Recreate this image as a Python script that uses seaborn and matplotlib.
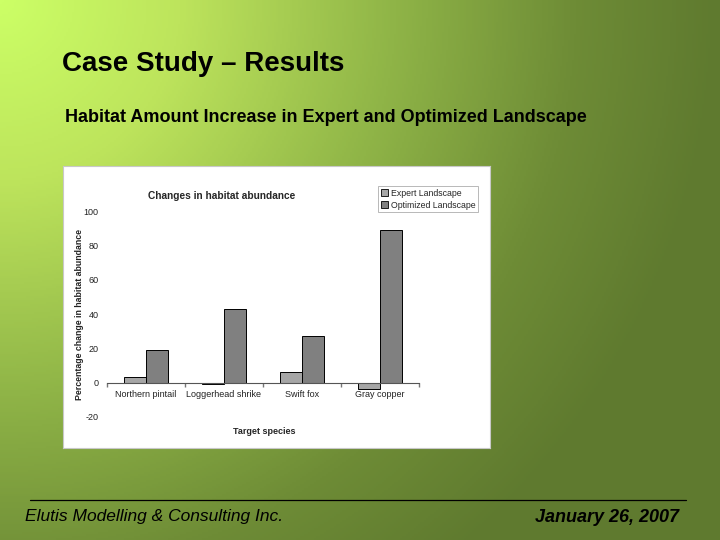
import matplotlib.pyplot as plt
import matplotlib.colors as mcolors
import numpy as np
import pandas as pd
import seaborn as sns

# Data
species = ['Northern pintail', 'Loggerhead shrike', 'Swift fox', 'Gray copper']
expert = [3.5, -1.0, 6.0, -3.5]
optimized = [19.0, 43.0, 27.0, 89.0]
series_names = ['Expert Landscape', 'Optimized Landscape']
y_ticks = [-20, 0, 20, 40, 60, 80, 100]

df = pd.DataFrame({
    'species': species * 2,
    'change': expert + optimized,
    'landscape': [series_names[0]] * len(species) + [series_names[1]] * len(species),
})

sns.set_theme(style='white')
plt.rcParams['font.family'] = ['Liberation Sans', 'DejaVu Sans']

fig = plt.figure(figsize=(7.2, 5.4), dpi=100)

# Slide background: gradient from light lime (top-left) to olive (right/bottom)
bg = fig.add_axes([0, 0, 1, 1])
yy, xx = np.mgrid[0:1:270j, 0:1:360j]
d = np.clip(np.sqrt(xx ** 2 + (yy * 0.75) ** 2), 0, 1)
cmap = mcolors.LinearSegmentedColormap.from_list(
    'slide', [(0, '#ccff66'), (0.25, '#bde45c'), (0.55, '#8fb447'), (0.8, '#6e8c36'), (1, '#5f7a2f')])
bg.imshow(d, cmap=cmap, aspect='auto', extent=[0, 1, 0, 1], origin='upper', vmin=0, vmax=1)
bg.set_xlim(0, 1)
bg.set_ylim(0, 1)
bg.axis('off')

# Slide texts
fig.text(62 / 720, 1 - 64 / 540, 'Case Study \u2013 Results', fontsize=20, fontweight='bold',
         va='center', ha='left', color='black')
fig.text(65 / 720, 1 - 117 / 540, 'Habitat Amount Increase in Expert and Optimized Landscape',
         fontsize=13, fontweight='bold', va='center', ha='left', color='black')
bg.plot([30 / 720, 686 / 720], [1 - 500 / 540, 1 - 500 / 540], color='black', lw=0.9)
fig.text(25 / 720, 1 - 516 / 540, 'Elutis Modelling & Consulting Inc.', fontsize=12.5,
         fontstyle='italic', va='center', ha='left', color='black')
fig.text(679 / 720, 1 - 518 / 540, 'January 26, 2007', fontsize=13, fontstyle='italic',
         fontweight='bold', va='center', ha='right', color='black')

# White chart panel
panel = fig.add_axes([63 / 720, 1 - 448 / 540, 427 / 720, 282 / 540])
panel.set_facecolor('white')
panel.set_xticks([])
panel.set_yticks([])
for s in panel.spines.values():
    s.set_color('#c8c8c8')
    s.set_linewidth(0.8)

# Chart axes
ax = fig.add_axes([107 / 720, 1 - 417 / 540, 312 / 720, 206 / 540])
ax.set_facecolor('none')
sns.barplot(data=df, x='species', y='change', hue='landscape', palette=['#a6a6a6', '#808080'],
            width=0.56, edgecolor='black', linewidth=0.7, saturation=1, ax=ax)
ax.legend_.remove()
ax.set_ylim(-20, 100)
ax.set_xlim(-0.5, len(species) - 0.5)
ax.set_yticks(y_ticks)
ax.set_yticklabels([str(v) for v in y_ticks], fontsize=6.5, color='#222222')
ax.tick_params(axis='y', length=0, pad=6)
ax.spines['bottom'].set_position(('data', 0))
ax.spines['bottom'].set_color('#555555')
ax.spines['bottom'].set_linewidth(0.8)
for s in ['top', 'right', 'left']:
    ax.spines[s].set_visible(False)
ax.set_xticks(range(len(species)))
ax.set_xticklabels(species, fontsize=6.5, color='#222222')
ax.set_xticks(np.arange(-0.5, len(species), 1), minor=True)
ax.tick_params(axis='x', which='major', length=0, pad=5)
ax.tick_params(axis='x', which='minor', length=3, color='#777777', bottom=True)
ax.set_xlabel('')
ax.set_ylabel('')

fig.text(222 / 720, 1 - 196 / 540, 'Changes in habitat abundance', fontsize=7.3, fontweight='bold',
         ha='center', va='center')
fig.text(79 / 720, 1 - 314 / 540, 'Percentage change in habitat abundance', fontsize=6.3,
         fontweight='bold', rotation=90, ha='center', va='center', color='#222222')
fig.text(264 / 720, 1 - 432 / 540, 'Target species', fontsize=6.5, fontweight='bold',
         ha='center', va='center')

# Legend
handles = [plt.Rectangle((0, 0), 1, 1, facecolor=c, edgecolor='black', linewidth=0.6)
           for c in ['#a6a6a6', '#808080']]
leg = fig.legend(handles, series_names, loc='upper left',
                 bbox_to_anchor=(378 / 720, 1 - 186 / 540), fontsize=6.3, frameon=True,
                 fancybox=False, handlelength=0.8, handleheight=0.8, handletextpad=0.4,
                 borderpad=0.3, labelspacing=0.35, borderaxespad=0)
leg.get_frame().set_edgecolor('#999999')
leg.get_frame().set_linewidth(0.6)

fig.savefig('out.png', dpi=100)
